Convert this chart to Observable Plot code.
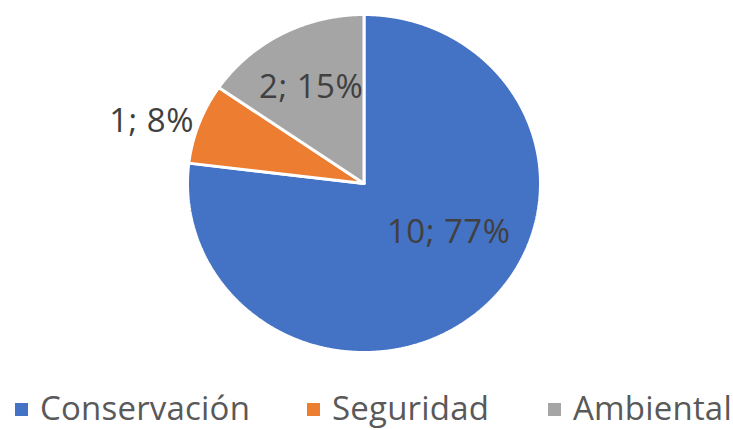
<!DOCTYPE html>
<html>
<head>
<meta charset="utf-8">
<script src="https://cdn.jsdelivr.net/npm/d3@7"></script>
<script src="https://cdn.jsdelivr.net/npm/@observablehq/plot@0.6"></script>
<style>
  html, body { margin: 0; padding: 0; background: #fff; }
  body { width: 733px; height: 430px; overflow: hidden; font-family: "Open Sans", sans-serif; }
  #legend { position: relative; height: 45px; color: #595959; font-size: 33px; letter-spacing: 0.2px; }
  .item { position: absolute; top: 0; height: 45px; display: flex; align-items: center; white-space: nowrap; }
  .sw { width: 13px; height: 13px; margin-right: 12px; margin-top: 4px; }
</style>
</head>
<body>
<div id="chart"></div>
<div id="legend"></div>
<script>
const categories = ["Conservación", "Seguridad", "Ambiental"];
const values = [10, 1, 2];
const percentLabels = ["77%", "8%", "15%"];
const colors = ["#4472C4", "#ED7D31", "#A5A5A5"];

// label placement (unit-circle radius fraction, angle override in degrees clockwise from top, anchor)
const labelPlacement = [
  {r: 0.56, angle: 121, anchor: "middle"},
  {r: 1.03, angle: null, anchor: "end"},
  {r: 0.645, angle: null, anchor: "middle"}
];
const legendLeft = [15, 307, 548];

const pie = d3.pie().sort(null).value(d => d.value);
const slices = pie(categories.map((c, i) => ({cat: c, value: values[i]})));

const pts = [];
slices.forEach(s => {
  const cat = s.data.cat;
  pts.push({cat, x: 0, y: 0});
  const n = Math.max(2, Math.ceil((s.endAngle - s.startAngle) / 0.005));
  for (let k = 0; k <= n; k++) {
    const a = s.startAngle + (s.endAngle - s.startAngle) * k / n;
    pts.push({cat, x: Math.sin(a), y: Math.cos(a)});
  }
  pts.push({cat, x: 0, y: 0});
});

const labels = slices.map((s, i) => {
  const p = labelPlacement[i];
  const a = p.angle != null ? p.angle * Math.PI / 180 : (s.startAngle + s.endAngle) / 2;
  return {
    text: `${s.data.value}; ${percentLabels[i]}`,
    x: p.r * Math.sin(a),
    y: p.r * Math.cos(a),
    anchor: p.anchor
  };
});

const chart = Plot.plot({
  width: 733,
  height: 385,
  margin: 0,
  x: {domain: [-1, 1], range: [187, 540], axis: null},
  y: {domain: [-1, 1], range: [352, 14], axis: null},
  color: {domain: categories, range: colors},
  style: {fontFamily: "'Open Sans', sans-serif", background: "#fff", letterSpacing: "0.5px"},
  marks: [
    Plot.line(pts, {x: "x", y: "y", z: "cat", fill: "cat", stroke: "white", strokeWidth: 3, strokeLinejoin: "miter", curve: "linear"}),
    Plot.text(labels.filter(d => d.anchor === "middle"), {x: "x", y: "y", text: "text", fontSize: 33, fill: "#404040", textAnchor: "middle", lineAnchor: "middle"}),
    Plot.text(labels.filter(d => d.anchor === "end"), {x: "x", y: "y", text: "text", fontSize: 33, fill: "#404040", textAnchor: "end", lineAnchor: "middle"})
  ]
});
document.getElementById("chart").appendChild(chart);

const legend = document.getElementById("legend");
categories.forEach((c, i) => {
  const item = document.createElement("div");
  item.className = "item";
  item.style.left = legendLeft[i] + "px";
  const sw = document.createElement("div");
  sw.className = "sw";
  sw.style.background = colors[i];
  const t = document.createElement("span");
  t.textContent = c;
  item.appendChild(sw);
  item.appendChild(t);
  legend.appendChild(item);
});
</script>
</body>
</html>
